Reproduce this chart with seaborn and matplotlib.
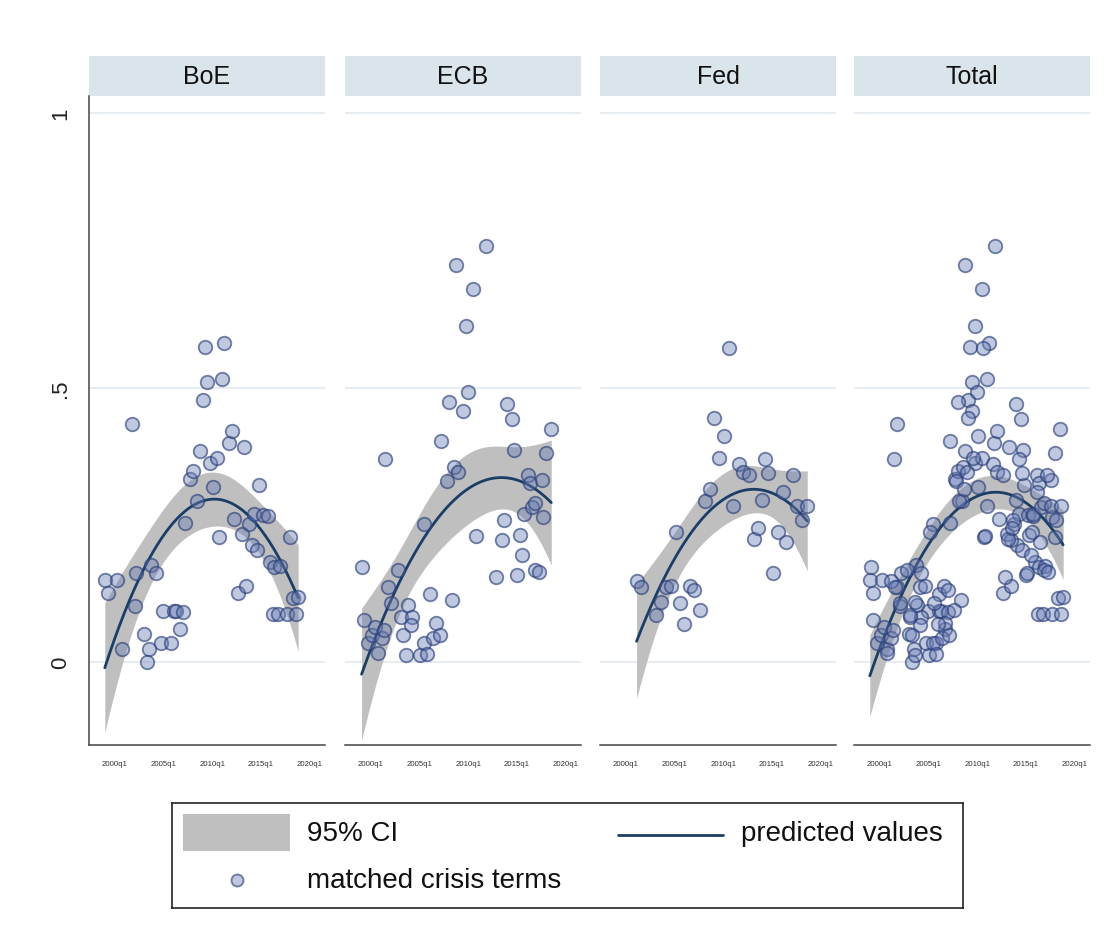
import numpy as np
import pandas as pd
import matplotlib
matplotlib.use("Agg")
import matplotlib.pyplot as plt
import seaborn as sns
from matplotlib import font_manager
from matplotlib.patches import Rectangle
from matplotlib.lines import Line2D

# data (x = year as decimal, y = share of matched crisis terms)
boe_year = [1998.97, 2000.24, 1999.25, 2001.71, 2002.22, 2000.75, 2002.05, 2003.01, 2003.49, 2003.25,
            2003.69, 2004.21, 2004.72, 2004.96, 2005.71, 2006.05, 2006.32, 2007.01, 2006.67, 2007.21,
            2007.69, 2007.97, 2008.44, 2008.72, 2008.99, 2009.23, 2009.47, 2009.74, 2010.02, 2010.50,
            2010.70, 2010.97, 2011.18, 2011.69, 2012.00, 2012.24, 2012.68, 2012.99, 2013.23, 2013.50,
            2013.74, 2014.02, 2014.53, 2014.26, 2014.77, 2015.15, 2015.73, 2015.90, 2016.34, 2016.92,
            2016.24, 2016.75, 2017.61, 2017.95, 2018.29, 2018.80, 2018.53]
boe_val = [0.149, 0.149, 0.126, 0.434, 0.163, 0.023, 0.103, 0.052, 0.024, 0.000,
           0.176, 0.162, 0.034, 0.093, 0.035, 0.093, 0.093, 0.091, 0.061, 0.254,
           0.333, 0.348, 0.293, 0.385, 0.478, 0.574, 0.511, 0.363, 0.318, 0.372,
           0.227, 0.515, 0.582, 0.399, 0.420, 0.261, 0.126, 0.233, 0.392, 0.139,
           0.251, 0.214, 0.205, 0.269, 0.323, 0.267, 0.266, 0.182, 0.173, 0.175,
           0.087, 0.087, 0.088, 0.228, 0.117, 0.118, 0.087]

ecb_year = [1999.05, 1999.30, 1999.70, 2000.10, 2000.40, 2000.75, 2001.10, 2001.40, 2001.50, 2001.80,
            2002.10, 2002.80, 2003.10, 2003.30, 2003.60, 2003.80, 2004.20, 2004.10, 2005.00, 2005.40,
            2005.50, 2005.80, 2006.10, 2006.40, 2006.70, 2007.10, 2007.20, 2007.80, 2008.30, 2008.50,
            2008.96, 2008.00, 2008.75, 2009.50, 2009.80, 2010.00, 2010.50, 2010.80, 2011.80, 2012.80,
            2013.50, 2013.70, 2014.00, 2014.50, 2014.70, 2015.00, 2015.30, 2015.50, 2015.70, 2016.10,
            2016.30, 2016.50, 2016.80, 2016.80, 2017.20, 2017.50, 2017.70, 2018.00, 2018.50]
ecb_val = [0.174, 0.077, 0.034, 0.049, 0.064, 0.016, 0.043, 0.058, 0.370, 0.137,
           0.107, 0.168, 0.083, 0.049, 0.013, 0.104, 0.083, 0.068, 0.013, 0.034,
           0.252, 0.014, 0.124, 0.043, 0.071, 0.049, 0.403, 0.330, 0.113, 0.356,
           0.347, 0.474, 0.723, 0.457, 0.612, 0.492, 0.679, 0.229, 0.758, 0.155,
           0.223, 0.259, 0.470, 0.443, 0.387, 0.158, 0.231, 0.195, 0.270, 0.341,
           0.326, 0.283, 0.290, 0.168, 0.164, 0.332, 0.265, 0.381, 0.425]

fed_year = [2001.10, 2001.60, 2003.10, 2003.60, 2004.10, 2004.60, 2005.10, 2005.60, 2006.00, 2006.60,
            2007.00, 2007.60, 2008.10, 2008.60, 2009.00, 2010.10, 2009.60, 2010.60, 2011.00, 2011.60,
            2012.00, 2012.60, 2013.10, 2013.60, 2014.00, 2014.30, 2014.60, 2015.10, 2015.60, 2016.10,
            2016.40, 2017.10, 2017.60, 2018.10, 2018.60]
fed_val = [0.148, 0.137, 0.085, 0.109, 0.137, 0.139, 0.237, 0.108, 0.070, 0.139,
           0.131, 0.095, 0.293, 0.316, 0.445, 0.412, 0.372, 0.572, 0.285, 0.361,
           0.346, 0.341, 0.224, 0.244, 0.296, 0.370, 0.345, 0.162, 0.237, 0.310,
           0.218, 0.341, 0.285, 0.258, 0.285]

panels = ["BoE", "ECB", "Fed", "Total"]
xticks = [2000, 2005, 2010, 2015, 2020]
xticklabels = ["2000q1", "2005q1", "2010q1", "2015q1", "2020q1"]
yticks = [0, 0.5, 1]
yticklabels = ["0", ".5", "1"]

df = pd.concat([
    pd.DataFrame({"year": boe_year, "share": boe_val, "bank": "BoE"}),
    pd.DataFrame({"year": ecb_year, "share": ecb_val, "bank": "ECB"}),
    pd.DataFrame({"year": fed_year, "share": fed_val, "bank": "Fed"}),
], ignore_index=True)


def qfitci(x, y, n=200):
    # quadratic fit with 95% CI of the prediction (like Stata qfitci)
    t = x - 2000
    X = np.column_stack([np.ones_like(t), t, t ** 2])
    beta = np.linalg.lstsq(X, y, rcond=None)[0]
    resid = y - X @ beta
    dof = len(y) - 3
    cov = (resid @ resid / dof) * np.linalg.inv(X.T @ X)
    grid = np.linspace(x.min(), x.max(), n)
    G = np.column_stack([np.ones(n), grid - 2000, (grid - 2000) ** 2])
    fit = G @ beta
    se = np.sqrt(np.einsum("ij,jk,ik->i", G, cov, G))
    tcrit = 1.96 + 2.4 / dof
    return pd.DataFrame({"year": grid, "fit": fit, "lo": fit - tcrit * se, "hi": fit + tcrit * se})


sns.set_style("white")
names = {f.name for f in font_manager.fontManager.ttflist}
narrow = "Liberation Sans Narrow" in names
print("narrow font:", narrow)
if narrow:
    plt.rcParams["font.family"] = ["Liberation Sans Narrow", "DejaVu Sans"]
    fs_head, fs_leg, fs_xt, fs_yt = 21.5, 24, 6.8, 18
else:
    plt.rcParams["font.family"] = ["Liberation Sans", "DejaVu Sans"]
    fs_head, fs_leg, fs_xt, fs_yt = 18, 20, 5.6, 16

navy = "#1a3e66"
band = "#bfbfbf"
pt_face = (0.42, 0.49, 0.71, 0.42)
pt_edge = (0.17, 0.25, 0.48, 0.65)
grid_c = "#e4ebf1"
strip_c = "#d9e4eb"

W, H = 1113, 945
fig = plt.figure(figsize=(W / 100, H / 100), dpi=100)
fig.patch.set_facecolor("white")

lefts = [89, 345, 600, 854]
pw = 236
ax_top, ax_bot = 97, 746
for i, name in enumerate(panels):
    ax = fig.add_axes([lefts[i] / W, (H - ax_bot) / H, pw / W, (ax_bot - ax_top) / H])
    sub = df if name == "Total" else df[df["bank"] == name]
    ci = qfitci(sub["year"].to_numpy(), sub["share"].to_numpy())

    for yv in yticks:
        ax.axhline(yv, color=grid_c, lw=1.3, zorder=0)
    ax.fill_between(ci["year"], ci["lo"], ci["hi"], color=band, lw=0, zorder=1)
    sns.lineplot(data=ci, x="year", y="fit", ax=ax, color=navy, lw=2, zorder=2)
    sns.scatterplot(data=sub, x="year", y="share", ax=ax, s=95, color=pt_face,
                    edgecolor=pt_edge, linewidth=1.3, zorder=3, legend=False)

    ax.set_xlim(1997.35, 2021.55)
    ax.set_ylim(-0.151, 1.031)
    ax.set_xlabel("")
    ax.set_ylabel("")
    ax.set_xticks(xticks)
    ax.set_xticklabels(xticklabels, fontsize=fs_xt, color="#333333")
    ax.tick_params(axis="x", length=5, width=1, color="#444444", pad=6, direction="out")
    for s in ["top", "right"]:
        ax.spines[s].set_visible(False)
    ax.spines["bottom"].set_color("#444444")
    ax.spines["bottom"].set_linewidth(1.1)
    if i == 0:
        ax.spines["left"].set_color("#444444")
        ax.spines["left"].set_linewidth(1.1)
        ax.set_yticks(yticks)
        ax.set_yticklabels(yticklabels, fontsize=fs_yt, rotation=90, va="center", color="#222222")
        ax.tick_params(axis="y", length=7, width=1, color="#444444", pad=6, direction="out")
    else:
        ax.spines["left"].set_visible(False)
        ax.set_yticks([])

    # panel header strip
    sh = 40 / (ax_bot - ax_top)
    ax.add_patch(Rectangle((0, 1), 1, sh, transform=ax.transAxes, color=strip_c,
                           clip_on=False, lw=0))
    ax.text(0.5, 1 + sh / 2, name, transform=ax.transAxes, ha="center", va="center",
            fontsize=fs_head, color="#111111")

# legend box
lx0, lx1, ly0, ly1 = 172, 963, 804, 909
lax = fig.add_axes([lx0 / W, (H - ly1) / H, (lx1 - lx0) / W, (ly1 - ly0) / H])
lax.set_xlim(0, 1)
lax.set_ylim(0, 1)
lax.set_xticks([])
lax.set_yticks([])
for s in lax.spines.values():
    s.set_color("#222222")
    s.set_linewidth(1.2)
lax.add_patch(Rectangle((0.0139, 0.543), 0.1353, 0.352, color=band, lw=0))
lax.text(0.1707, 0.714, "95% CI", fontsize=fs_leg, va="center", ha="left", color="#111111")
lax.add_line(Line2D([0.5638, 0.6966], [0.695, 0.695], color=navy, lw=2))
lax.text(0.7193, 0.714, "predicted values", fontsize=fs_leg, va="center", ha="left", color="#111111")
lax.scatter([0.0822], [0.267], s=75, color=pt_face, edgecolor=pt_edge, linewidth=1.3)
lax.text(0.1707, 0.267, "matched crisis terms", fontsize=fs_leg, va="center", ha="left", color="#111111")

fig.savefig("out.png", dpi=100)
